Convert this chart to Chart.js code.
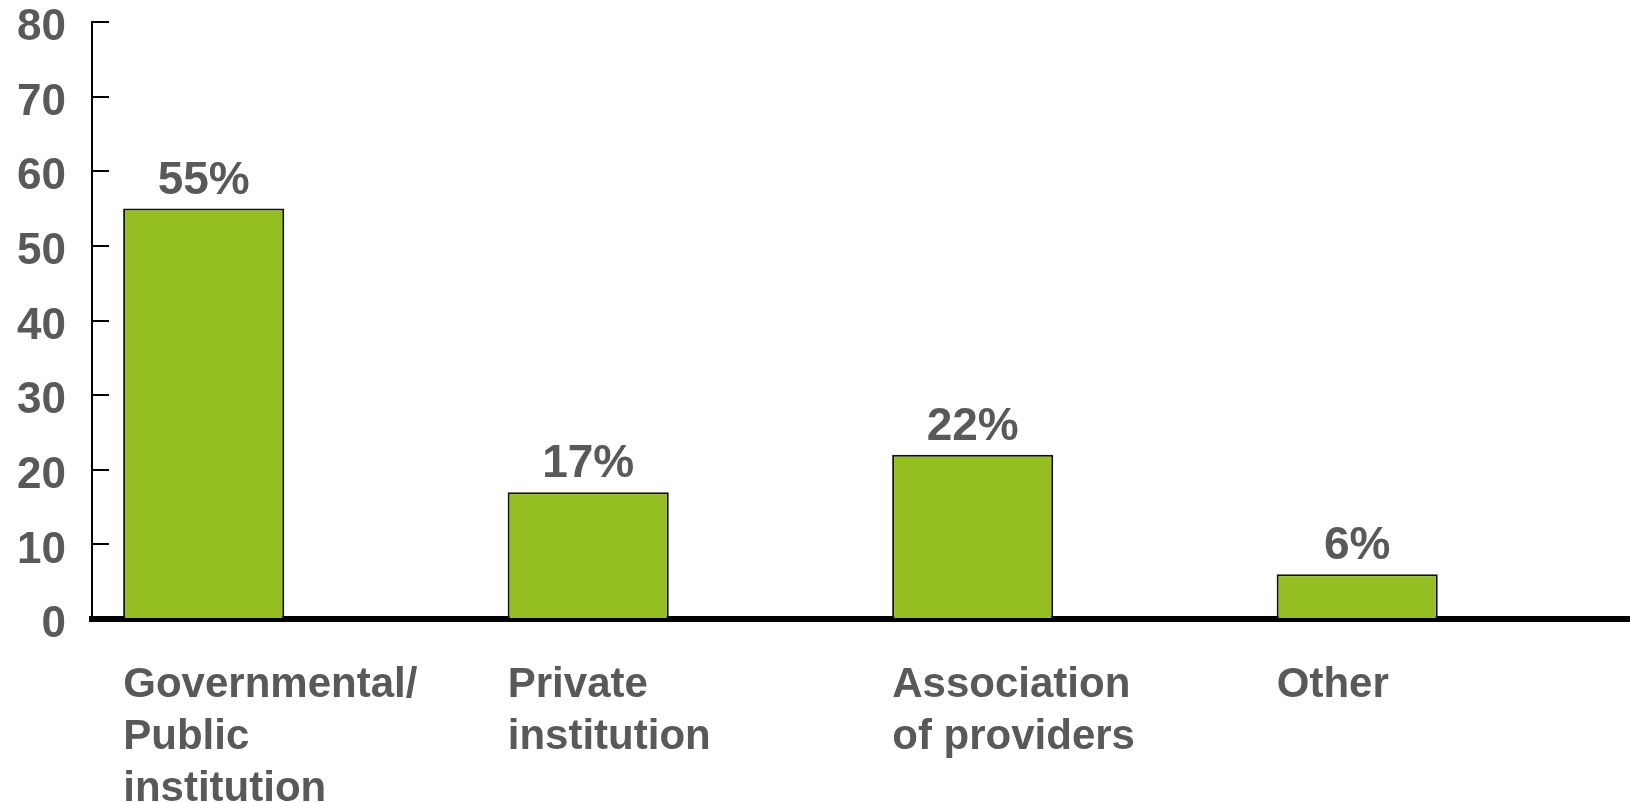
<!DOCTYPE html>
<html>
<head>
<meta charset="utf-8">
<title>Provider types</title>
<script src="https://cdn.jsdelivr.net/npm/chart.js@4/dist/chart.umd.min.js"></script>
<style>
  html, body { margin: 0; padding: 0; background: #ffffff; }
  #wrap { width: 1630px; height: 803px; }
</style>
</head>
<body>
<div id="wrap"><canvas id="chart" width="1630" height="803"></canvas></div>
<script>
// Categories (multi-line labels) and their shares in percent
const categories = [
  ['Governmental/', 'Public', 'institution'],
  ['Private', 'institution'],
  ['Association', 'of providers'],
  ['Other']
];
const shares = [55, 17, 22, 6];

// Value axis range
const yMin = 0;
const yMax = 80;
const yStep = 10;

const TEXT_GREY = '#595959';
const BAR_GREEN = '#95BE22';
const FONT_FAMILY = "'Liberation Sans', Arial, Helvetica, sans-serif";

// Writes "NN%" above each bar of the first dataset
const valueLabels = {
  id: 'valueLabels',
  afterDatasetsDraw(chart) {
    const ctx = chart.ctx;
    const meta = chart.getDatasetMeta(0);
    const values = chart.data.datasets[0].data;
    ctx.save();
    ctx.font = 'bold 46px ' + FONT_FAMILY;
    ctx.fillStyle = TEXT_GREY;
    ctx.textAlign = 'center';
    ctx.textBaseline = 'alphabetic';
    meta.data.forEach((bar, i) => {
      ctx.fillText(values[i] + '%', bar.x, bar.y - 15);
    });
    ctx.restore();
  }
};

new Chart(document.getElementById('chart'), {
  type: 'bar',
  data: {
    labels: categories,
    datasets: [
      {
        data: shares,
        backgroundColor: BAR_GREEN,
        borderColor: '#111111',
        borderWidth: 2,
        categoryPercentage: 0.838,
        barPercentage: 1
      },
      {
        // empty companion series; keeps each bar in the left half of its slot
        data: [],
        backgroundColor: 'rgba(0,0,0,0)',
        categoryPercentage: 0.838,
        barPercentage: 1
      }
    ]
  },
  options: {
    responsive: false,
    animation: false,
    events: [],
    layout: { padding: { top: 22, left: 0, right: 0, bottom: 0 } },
    plugins: {
      legend: { display: false },
      tooltip: { enabled: false }
    },
    scales: {
      x: {
        z: 1,
        grid: { display: false, drawTicks: false },
        border: { display: true, color: '#000000', width: 6 },
        ticks: {
          autoSkip: false,
          maxRotation: 0,
          minRotation: 0,
          align: 'start',
          labelOffset: -161,
          padding: 41,
          color: TEXT_GREY,
          font: { family: FONT_FAMILY, size: 42, weight: 'bold', lineHeight: 1.23 }
        },
        afterFit(scale) {
          scale.height = 184;
          scale.paddingLeft = 0;
          scale.paddingRight = 0;
        }
      },
      y: {
        min: yMin,
        max: yMax,
        grid: {
          drawOnChartArea: false,
          drawTicks: true,
          tickLength: -17,
          color: '#000000',
          lineWidth: 2
        },
        border: { display: true, color: '#000000', width: 2 },
        ticks: {
          stepSize: yStep,
          padding: 43,
          labelOffset: 6,
          color: TEXT_GREY,
          font: { family: FONT_FAMILY, size: 44, weight: 'bold' }
        },
        afterFit(scale) {
          scale.width = 92;
          scale.paddingTop = 0;
          scale.paddingBottom = 0;
        }
      }
    }
  },
  plugins: [valueLabels]
});
</script>
</body>
</html>
